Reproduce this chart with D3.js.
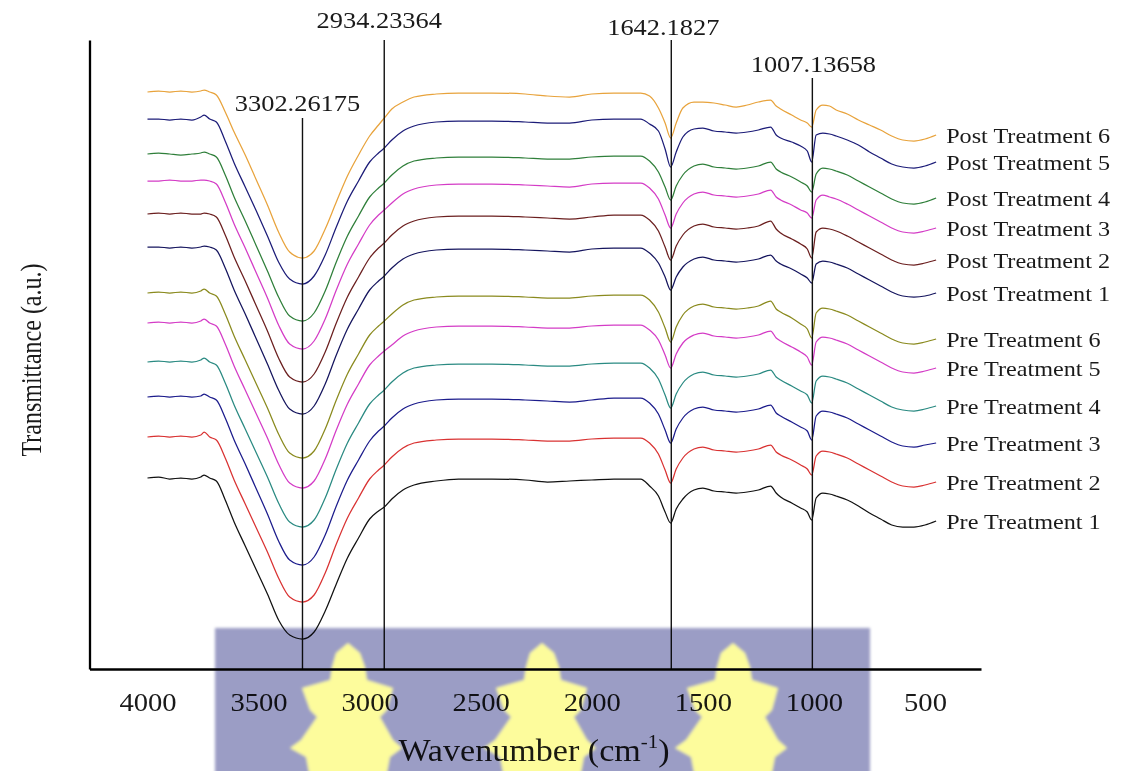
<!DOCTYPE html>
<html><head><meta charset="utf-8">
<script src="https://cdn.jsdelivr.net/npm/d3@7"></script>
<style>html,body{margin:0;padding:0;background:#fff;} svg{display:block;}</style>
</head><body>
<svg id="chart" width="1123" height="771"></svg>
<script>
// ---------------- DATA ----------------
const wavenumbers = [4000,3950,3900,3850,3800,3760,3745,3720,3690,3650,3610,3560,3510,3460,3410,3360,3302,3250,3200,3150,3100,3050,3000,2960,2934,2900,2850,2800,2700,2600,2450,2300,2200,2100,2000,1900,1780,1740,1700,1670,1645,1620,1590,1540,1500,1450,1400,1350,1300,1250,1195,1170,1150,1100,1060,1030,1010,990,960,930,900,850,800,750,700,650,600,550,500,450];

const seriesNames = ["Pre Treatment 1","Pre Treatment 2","Pre Treatment 3","Pre Treatment 4","Pre Treatment 5","Pre Treatment 6",
  "Post Treatment 1","Post Treatment 2","Post Treatment 3","Post Treatment 4","Post Treatment 5","Post Treatment 6"];

// baseline transmittance (a.u.) of each stacked spectrum at 4000 cm-1
const seriesBaseline = [191, 232, 272, 307, 346, 376, 422, 455, 488, 515, 550, 577];

// transmittance relative to baseline (a.u.)
const pre1 = [0,1,-1,0,-1,1,3,0,-3, -22,-44,-68,-92,-116,-142,-157,-161,-154,-133,-106,-80,-60,-41,-33,-29, -21,-12,-7,-3,-1,-1,-2,-4,-3,-2,-1,-1, -8,-18,-34,-45,-31,-21,-12,-10, -13,-14,-15,-14,-12,-8,-15,-19,-25,-30,-34, -42,-20,-15,-16,-18,-22,-28,-35,-41,-47,-49,-49,-47,-43];
const pre2 = [0,1,0,1,0,2,5,0,-3, -21,-43,-67,-91,-115,-141,-160,-165,-158,-136,-107,-81,-61,-42,-33,-28, -20,-11,-6,-3,-2,-2,-3,-4,-4,-2,-1,-1, -6,-17,-33,-46,-32,-21,-12,-10, -13,-14,-15,-14,-12,-8,-15,-18,-23,-28,-32, -38,-19,-14,-15,-17,-21,-27,-33,-39,-45,-49,-50,-48,-45];
const pre3 = [0,1,0,1,0,1,3,0,-3, -21,-43,-67,-92,-117,-144,-163,-168,-160,-138,-109,-83,-63,-44,-34,-29, -21,-12,-7,-3,-2,-2,-3,-4,-5,-3,-1,-1, -6,-17,-33,-46,-32,-21,-12,-10, -13,-14,-15,-14,-12,-8,-16,-19,-25,-30,-34, -43,-19,-14,-15,-17,-21,-27,-33,-39,-45,-49,-50,-48,-46];
const pre4 = [0,1,0,1,0,2,4,0,-3, -21,-43,-67,-91,-115,-141,-160,-165,-158,-136,-107,-81,-61,-42,-33,-28, -20,-11,-6,-3,-2,-2,-3,-4,-4,-2,-1,-1, -6,-17,-33,-46,-32,-21,-12,-10, -13,-14,-15,-14,-12,-8,-15,-18,-24,-29,-33, -41,-19,-14,-15,-17,-21,-27,-33,-39,-45,-48,-49,-47,-44];
const pre5 = [0,1,0,1,0,2,4,0,-3, -21,-43,-67,-91,-115,-141,-160,-165,-158,-136,-107,-81,-61,-42,-33,-28, -22,-13,-8,-4,-3,-3,-4,-5,-5,-3,-2,-2, -7,-17,-32,-45,-31,-20,-12,-10, -13,-14,-15,-14,-12,-8,-15,-18,-24,-29,-34, -42,-19,-14,-15,-17,-21,-27,-33,-39,-45,-49,-50,-48,-45];
const pre6 = [0,1,0,1,0,2,4,0,-3, -21,-43,-67,-91,-115,-141,-160,-165,-158,-136,-107,-81,-61,-42,-33,-28, -21,-12,-7,-4,-3,-3,-4,-5,-5,-3,-2,-2, -7,-19,-35,-49,-34,-22,-13,-11, -14,-15,-16,-15,-13,-8,-16,-19,-25,-31,-36, -45,-20,-15,-16,-18,-22,-28,-34,-40,-46,-50,-51,-49,-46];
const post1 = [0,0,-1,0,-1,0,1,0,-3, -21,-43,-67,-92,-117,-143,-162,-167,-159,-137,-108,-82,-62,-43,-34,-29, -21,-12,-7,-3,-2,-2,-3,-4,-5,-2,-1,-1, -6,-16,-30,-43,-30,-20,-12,-10, -13,-14,-15,-14,-12,-8,-14,-17,-22,-27,-31, -36,-17,-14,-15,-17,-21,-27,-33,-39,-45,-49,-50,-49,-46];
const post2 = [0,1,0,1,0,0,1,0,-3, -21,-43,-67,-92,-117,-144,-163,-168,-160,-138,-109,-83,-63,-44,-34,-29, -21,-12,-7,-3,-2,-2,-3,-4,-5,-3,-1,-1, -6,-17,-33,-46,-32,-21,-12,-10, -13,-14,-15,-14,-12,-7,-15,-19,-25,-30,-35, -44,-18,-14,-15,-17,-22,-28,-34,-40,-46,-50,-51,-49,-46];
const post3 = [0,0,1,0,0,1,1,0,-3, -21,-43,-67,-92,-117,-144,-163,-168,-160,-138,-109,-83,-63,-44,-34,-29, -22,-13,-8,-4,-3,-3,-4,-5,-6,-3,-2,-2, -7,-18,-34,-47,-33,-22,-13,-11, -14,-15,-16,-15,-13,-9,-16,-19,-24,-29,-32, -37,-19,-14,-16,-18,-23,-29,-35,-41,-47,-51,-52,-50,-47];
const post4 = [0,1,0,-1,0,1,2,0,-3, -21,-43,-67,-92,-117,-143,-162,-167,-159,-137,-108,-82,-62,-43,-34,-29, -21,-12,-7,-4,-3,-3,-4,-5,-5,-3,-2,-2, -7,-18,-33,-46,-32,-21,-12,-10, -13,-14,-15,-14,-12,-8,-15,-18,-23,-28,-32, -38,-20,-14,-15,-17,-21,-27,-33,-39,-45,-49,-50,-48,-44];
const post5 = [0,0,-1,0,-1,2,4,0,-3, -22,-44,-68,-92,-117,-143,-160,-165,-157,-136,-108,-82,-62,-43,-34,-29, -21,-12,-7,-3,-2,-2,-3,-4,-4,-1,0,0, -5,-12,-30,-48,-33,-18,-10,-9, -12,-13,-14,-13,-11,-8,-16,-19,-23,-27,-32, -43,-16,-14,-15,-17,-21,-26,-33,-39,-45,-48,-49,-47,-43];
const post6 = [0,1,0,1,0,1,2,0,-3, -20,-40,-63,-88,-113,-140,-160,-166,-159,-137,-110,-84,-63,-44,-33,-26, -17,-10,-5,-2,-1,-1,-2,-4,-5,-2,-1,-1, -4,-16,-31,-46,-31,-16,-10,-10, -11,-13,-15,-13,-10,-8,-14,-17,-23,-28,-31, -35,-18,-13,-14,-18,-22,-28,-33,-38,-44,-48,-49,-47,-43];

const seriesValues = [pre1, pre2, pre3, pre4, pre5, pre6, post1, post2, post3, post4, post5, post6];
const seriesColors = ["#111111","#d93232","#1c1c8c","#2a8a82","#d43cc6","#8a8a1e",
  "#15155e","#6b1f1f","#d43cc6","#2f7f3a","#1c1c78","#e8a33c"];

const xTicks = [4000, 3500, 3000, 2500, 2000, 1500, 1000, 500];
const peaks = [3302.26175, 2934.23364, 1642.1827, 1007.13658];
const peakLabels = ["3302.26175", "2934.23364", "1642.1827", "1007.13658"];

// ---------------- LAYOUT ----------------
const FONT = "'Liberation Serif','Times New Roman',serif";
const SX = 1.1; // horizontal stretch of the original figure
const svg = d3.select("#chart");
const x = d3.scaleLinear().domain([4261, 248]).range([89.5, 981]);
const y = d3.scaleLinear().domain([0, 629]).range([669, 40]);
const peakLayout = [{top:118, labelY:111, dx:-5}, {top:40, labelY:28, dx:-5}, {top:40, labelY:35, dx:-8}, {top:78, labelY:72, dx:1}];

// spectra
const line = d3.line().x(d => x(d[0])).y(d => y(d[1])).curve(d3.curveMonotoneX);
const gLines = svg.append("g");
seriesValues.forEach((vals, i) => {
  const pts = wavenumbers.map((w, j) => [w, seriesBaseline[i] + vals[j]]);
  gLines.append("path").attr("d", line(pts)).attr("fill", "none")
    .attr("stroke", seriesColors[i]).attr("stroke-width", 1.25);
  const last = pts[pts.length - 1];
  svg.append("text")
    .attr("transform", `translate(${x(last[0]) + 10},${y(last[1])}) scale(${SX},1)`)
    .attr("dy", "0.35em").attr("font-family", FONT).attr("font-size", 22)
    .attr("fill", "#1a1a1a").text(seriesNames[i]);
});

// peak markers
peaks.forEach((p, i) => {
  const L = peakLayout[i];
  svg.append("line").attr("x1", x(p)).attr("x2", x(p)).attr("y1", L.top).attr("y2", y(0))
    .attr("stroke", "#111").attr("stroke-width", 1.4);
  svg.append("text")
    .attr("transform", `translate(${x(p) + L.dx},${L.labelY}) scale(${SX},1)`)
    .attr("text-anchor", "middle").attr("font-family", FONT).attr("font-size", 24)
    .attr("fill", "#1a1a1a").text(peakLabels[i]);
});

// axes
const gx = svg.append("g").attr("transform", `translate(0,${y(0)})`)
  .call(d3.axisBottom(x).tickValues(xTicks).tickSize(0).tickSizeOuter(0).tickPadding(24).tickFormat(d3.format("d")));
gx.select(".domain").attr("stroke", "#000").attr("stroke-width", 2.6);
gx.selectAll("text").attr("font-family", FONT).attr("font-size", 26).attr("fill", "#1a1a1a")
  .attr("transform", `scale(${SX},1)`);

const gy = svg.append("g").attr("transform", `translate(${x.range()[0]},0)`)
  .call(d3.axisLeft(y).tickValues([]).tickSizeOuter(0));
gy.select(".domain").attr("stroke", "#000").attr("stroke-width", 2.3);

// axis titles
const xt = svg.append("text").attr("transform", `translate(534,761) scale(${SX},1)`)
  .attr("text-anchor", "middle").attr("font-family", FONT).attr("font-size", 31).attr("fill", "#1a1a1a");
xt.append("tspan").text("Wavenumber (cm");
xt.append("tspan").attr("font-size", 19).attr("dy", -13).text("-1");
xt.append("tspan").attr("dy", 13).text(")");

svg.append("text").attr("transform", "translate(41,360) rotate(-90) scale(1,1.2)")
  .attr("text-anchor", "middle").attr("font-family", FONT).attr("font-size", 24)
  .attr("fill", "#1a1a1a").text("Transmittance (a.u.)");

// watermark overlay of the source image
const defs = svg.append("defs");
defs.append("filter").attr("id", "soft").append("feGaussianBlur").attr("stdDeviation", 1.4);
const wm = svg.append("g").style("mix-blend-mode", "multiply").attr("filter", "url(#soft)");
wm.append("rect").attr("x", 215).attr("y", 628).attr("width", 655).attr("height", 160).attr("fill", "#9b9dc5");
const leaf = [[0,0],[12,10],[17,24],[19,37],[45,45],[39,67],[32,74],[45,97],[54,105],[42,114],[38,135],
  [-38,135],[-42,114],[-58,105],[-47,97],[-31,74],[-38,67],[-46,45],[-18,37],[-16,24],[-12,10]];
[348, 542, 733].forEach(cx => {
  wm.append("path").attr("d", d3.line()(leaf.map(p => [cx + p[0], 643 + p[1]])) + "Z")
    .attr("fill", "#fdfc9c");
});
</script>
</body></html>
